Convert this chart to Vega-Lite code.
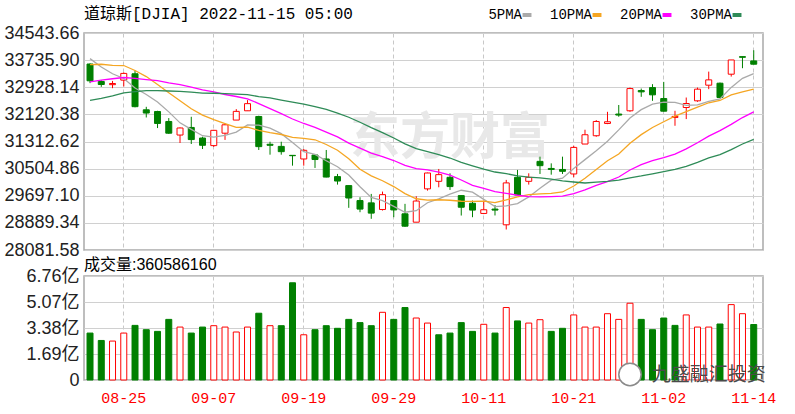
{
"$schema": "https://vega.github.io/schema/vega-lite/v6.json",
"background": "white",
"padding": {"left": 3, "top": 5, "right": 5, "bottom": 0},
"config": {
  "view": {"stroke": "#a9a9a9", "strokeWidth": 1.5},
  "axis": {"domain": false, "ticks": false, "title": null, "labelOverlap": false}
},
"data": {"values": [
{"d":"08-22","o":33620,"h":33640,"l":33050,"c":33120,"v":305000000,"vd":"d","5PMA":33780,"10PMA":33600,"20PMA":33085,"30PMA":32536},
{"d":"08-23","o":33100,"h":33140,"l":32940,"c":33010,"v":257000000,"vd":"d","5PMA":33532,"10PMA":33613,"20PMA":33142,"30PMA":32600},
{"d":"08-24","o":33005,"h":33117,"l":32900,"c":33040,"v":253000000,"vd":"u","5PMA":33330,"10PMA":33579,"20PMA":33181,"30PMA":32673},
{"d":"08-25","o":33140,"h":33370,"l":32950,"c":33340,"v":305000000,"vd":"u","5PMA":33188,"10PMA":33575,"20PMA":33219,"30PMA":32762},
{"d":"08-26","o":33330,"h":33420,"l":32330,"c":32350,"v":355000000,"vd":"d","5PMA":32904,"10PMA":33427,"20PMA":33191,"30PMA":32795},
{"d":"08-29","o":32257,"h":32346,"l":32028,"c":32160,"v":327000000,"vd":"d","5PMA":32711,"10PMA":33246,"20PMA":33156,"30PMA":32829},
{"d":"08-30","o":32206,"h":32227,"l":31713,"c":31850,"v":316000000,"vd":"d","5PMA":32487,"10PMA":33009,"20PMA":33126,"30PMA":32828},
{"d":"08-31","o":31909,"h":32010,"l":31540,"c":31560,"v":394000000,"vd":"d","5PMA":32195,"10PMA":32762,"20PMA":33061,"30PMA":32816},
{"d":"09-01","o":31505,"h":31730,"l":31268,"c":31715,"v":344000000,"vd":"u","5PMA":31868,"10PMA":32528,"20PMA":33007,"30PMA":32803},
{"d":"09-02","o":31731,"h":32049,"l":31238,"c":31370,"v":305000000,"vd":"d","5PMA":31675,"10PMA":32289,"20PMA":32933,"30PMA":32784},
{"d":"09-06","o":31416,"h":31455,"l":31089,"c":31200,"v":344000000,"vd":"d","5PMA":31484,"10PMA":32097,"20PMA":32848,"30PMA":32756},
{"d":"09-07","o":31190,"h":31660,"l":31150,"c":31645,"v":353000000,"vd":"u","5PMA":31442,"10PMA":31964,"20PMA":32789,"30PMA":32750},
{"d":"09-08","o":31560,"h":31850,"l":31360,"c":31810,"v":344000000,"vd":"u","5PMA":31495,"10PMA":31845,"20PMA":32712,"30PMA":32736},
{"d":"09-09","o":31951,"h":32277,"l":31951,"c":32210,"v":312000000,"vd":"u","5PMA":31594,"10PMA":31731,"20PMA":32653,"30PMA":32723},
{"d":"09-12","o":32227,"h":32545,"l":32227,"c":32440,"v":344000000,"vd":"u","5PMA":31807,"10PMA":31741,"20PMA":32584,"30PMA":32708},
{"d":"09-13","o":32058,"h":32080,"l":31060,"c":31160,"v":434000000,"vd":"d","5PMA":31799,"10PMA":31641,"20PMA":32443,"30PMA":32651},
{"d":"09-14","o":31230,"h":31306,"l":30920,"c":31200,"v":353000000,"vd":"u","5PMA":31710,"10PMA":31576,"20PMA":32293,"30PMA":32609},
{"d":"09-15","o":31167,"h":31306,"l":30920,"c":31010,"v":353000000,"vd":"d","5PMA":31547,"10PMA":31521,"20PMA":32142,"30PMA":32547},
{"d":"09-16","o":30900,"h":30905,"l":30593,"c":30890,"v":632000000,"vd":"d","5PMA":31281,"10PMA":31438,"20PMA":31983,"30PMA":32484},
{"d":"09-19","o":30792,"h":31089,"l":30593,"c":31050,"v":294000000,"vd":"u","5PMA":31009,"10PMA":31408,"20PMA":31849,"30PMA":32425},
{"d":"09-20","o":30911,"h":30911,"l":30525,"c":30776,"v":327000000,"vd":"d","5PMA":30929,"10PMA":31364,"20PMA":31731,"30PMA":32354},
{"d":"09-21","o":30792,"h":31060,"l":30246,"c":30254,"v":353000000,"vd":"d","5PMA":30739,"10PMA":31224,"20PMA":31594,"30PMA":32267},
{"d":"09-22","o":30267,"h":30347,"l":30029,"c":30135,"v":336000000,"vd":"d","5PMA":30562,"10PMA":31054,"20PMA":31450,"30PMA":32160},
{"d":"09-23","o":30000,"h":30000,"l":29337,"c":29630,"v":394000000,"vd":"d","5PMA":30315,"10PMA":30798,"20PMA":31265,"30PMA":32035},
{"d":"09-26","o":29554,"h":29653,"l":29207,"c":29300,"v":373000000,"vd":"d","5PMA":29964,"10PMA":30486,"20PMA":31114,"30PMA":31885},
{"d":"09-27","o":29485,"h":29752,"l":29010,"c":29180,"v":353000000,"vd":"d","5PMA":29649,"10PMA":30289,"20PMA":30965,"30PMA":31725},
{"d":"09-28","o":29287,"h":29821,"l":29257,"c":29730,"v":440000000,"vd":"u","5PMA":29549,"10PMA":30144,"20PMA":30860,"30PMA":31576},
{"d":"09-29","o":29554,"h":29554,"l":29058,"c":29275,"v":394000000,"vd":"d","5PMA":29379,"10PMA":29971,"20PMA":30746,"30PMA":31418},
{"d":"09-30","o":29159,"h":29456,"l":28770,"c":28791,"v":471000000,"vd":"d","5PMA":29206,"10PMA":29761,"20PMA":30599,"30PMA":31242},
{"d":"10-03","o":28910,"h":29682,"l":28910,"c":29540,"v":403000000,"vd":"u","5PMA":29252,"10PMA":29608,"20PMA":30508,"30PMA":31102},
{"d":"10-04","o":29902,"h":30386,"l":29850,"c":30375,"v":370000000,"vd":"u","5PMA":29489,"10PMA":29569,"20PMA":30466,"30PMA":31010},
{"d":"10-05","o":30127,"h":30495,"l":29949,"c":30326,"v":294000000,"vd":"d","5PMA":29607,"10PMA":29578,"20PMA":30401,"30PMA":30922},
{"d":"10-06","o":30246,"h":30365,"l":29871,"c":29970,"v":305000000,"vd":"d","5PMA":29747,"10PMA":29563,"20PMA":30309,"30PMA":30821},
{"d":"10-07","o":29702,"h":29702,"l":29108,"c":29355,"v":373000000,"vd":"d","5PMA":29861,"10PMA":29534,"20PMA":30166,"30PMA":30688},
{"d":"10-10","o":29474,"h":29554,"l":29058,"c":29270,"v":316000000,"vd":"d","5PMA":29803,"10PMA":29528,"20PMA":30007,"30PMA":30585},
{"d":"10-11","o":29170,"h":29554,"l":29150,"c":29280,"v":362000000,"vd":"u","5PMA":29588,"10PMA":29538,"20PMA":29914,"30PMA":30490},
{"d":"10-12","o":29300,"h":29420,"l":29110,"c":29270,"v":305000000,"vd":"d","5PMA":29375,"10PMA":29491,"20PMA":29818,"30PMA":30404},
{"d":"10-13","o":28832,"h":30169,"l":28692,"c":30080,"v":471000000,"vd":"u","5PMA":29398,"10PMA":29572,"20PMA":29771,"30PMA":30355},
{"d":"10-14","o":30246,"h":30466,"l":29705,"c":29720,"v":384000000,"vd":"d","5PMA":29465,"10PMA":29663,"20PMA":29712,"30PMA":30287},
{"d":"10-17","o":30127,"h":30365,"l":30029,"c":30246,"v":370000000,"vd":"u","5PMA":29662,"10PMA":29733,"20PMA":29670,"30PMA":30250},
{"d":"10-18","o":30721,"h":30861,"l":30346,"c":30593,"v":392000000,"vd":"u","5PMA":29919,"10PMA":29754,"20PMA":29661,"30PMA":30229},
{"d":"10-19","o":30510,"h":30662,"l":30325,"c":30480,"v":316000000,"vd":"d","5PMA":30162,"10PMA":29769,"20PMA":29673,"30PMA":30190},
{"d":"10-20","o":30480,"h":30861,"l":30346,"c":30425,"v":336000000,"vd":"d","5PMA":30221,"10PMA":29809,"20PMA":29686,"30PMA":30142},
{"d":"10-21","o":30346,"h":31187,"l":30246,"c":31137,"v":423000000,"vd":"u","5PMA":30510,"10PMA":29988,"20PMA":29761,"30PMA":30107},
{"d":"10-24","o":31237,"h":31663,"l":31237,"c":31514,"v":344000000,"vd":"u","5PMA":30773,"10PMA":30218,"20PMA":29873,"30PMA":30077},
{"d":"10-25","o":31484,"h":31950,"l":31454,"c":31909,"v":344000000,"vd":"u","5PMA":31036,"10PMA":30477,"20PMA":30008,"30PMA":30102},
{"d":"10-26","o":31850,"h":32197,"l":31830,"c":31900,"v":431000000,"vd":"u","5PMA":31319,"10PMA":30740,"20PMA":30116,"30PMA":30125},
{"d":"10-27","o":32130,"h":32400,"l":32050,"c":32100,"v":394000000,"vd":"u","5PMA":31658,"10PMA":30940,"20PMA":30256,"30PMA":30161},
{"d":"10-28","o":32227,"h":32919,"l":32197,"c":32889,"v":499000000,"vd":"u","5PMA":32014,"10PMA":31262,"20PMA":30463,"30PMA":30229},
{"d":"10-31","o":32830,"h":32889,"l":32643,"c":32790,"v":394000000,"vd":"d","5PMA":32261,"10PMA":31517,"20PMA":30625,"30PMA":30286},
{"d":"11-01","o":32919,"h":33020,"l":32524,"c":32702,"v":327000000,"vd":"d","5PMA":32424,"10PMA":31730,"20PMA":30742,"30PMA":30351},
{"d":"11-02","o":32592,"h":33088,"l":32207,"c":32215,"v":403000000,"vd":"d","5PMA":32486,"10PMA":31902,"20PMA":30835,"30PMA":30416},
{"d":"11-03","o":32030,"h":32227,"l":31781,"c":32060,"v":355000000,"vd":"d","5PMA":32479,"10PMA":32069,"20PMA":30939,"30PMA":30480},
{"d":"11-04","o":32325,"h":32622,"l":31980,"c":32444,"v":423000000,"vd":"u","5PMA":32388,"10PMA":32201,"20PMA":31094,"30PMA":30574},
{"d":"11-07","o":32524,"h":32919,"l":32494,"c":32871,"v":344000000,"vd":"u","5PMA":32406,"10PMA":32334,"20PMA":31276,"30PMA":30693},
{"d":"11-08","o":32990,"h":33394,"l":32871,"c":33148,"v":344000000,"vd":"u","5PMA":32508,"10PMA":32466,"20PMA":31472,"30PMA":30827},
{"d":"11-09","o":33049,"h":33068,"l":32603,"c":32622,"v":364000000,"vd":"d","5PMA":32581,"10PMA":32534,"20PMA":31637,"30PMA":30922},
{"d":"11-10","o":33317,"h":33741,"l":33246,"c":33741,"v":490000000,"vd":"u","5PMA":32924,"10PMA":32702,"20PMA":31821,"30PMA":31071},
{"d":"11-11","o":33840,"h":33845,"l":33495,"c":33820,"v":431000000,"vd":"u","5PMA":33193,"10PMA":32790,"20PMA":32026,"30PMA":31239},
{"d":"11-14","o":33712,"h":34030,"l":33614,"c":33614,"v":360586160,"vd":"d","5PMA":33335,"10PMA":32871,"20PMA":32194,"30PMA":31373}
]},
"spacing": -4,
"vconcat": [
{
  "width": 679, "height": 217,
  "title": {"text": "道琼斯[DJIA] 2022-11-15 05:00", "anchor": "start", "frame": "group", "font": "Liberation Mono, Noto Sans CJK SC", "fontSize": 16, "fontWeight": "normal", "color": "#000000", "offset": 2},
  "encoding": {
    "x": {"field": "d", "type": "ordinal", "scale": {"type": "band", "paddingInner": 0, "paddingOuter": 0.18, "align": 0.1},
          "axis": {"labels": false, "grid": true, "gridDash": [4, 3], "gridColor": "#c8c8c8", "bandPosition": 0.5,
                   "minExtent": 0, "maxExtent": 0, "labelPadding": 0, "tickSize": 0,
                   "values": ["08-25","09-07","09-19","09-29","10-11","10-21","11-02","11-14"]}}
  },
  "layer": [
    {"data": {"values": [{"t": "东方财富"}]},
     "mark": {"type": "text", "font": "Noto Sans CJK SC", "fontSize": 50, "fontWeight": "bold", "color": "#e8e8e8", "align": "center", "baseline": "middle"},
     "encoding": {"x": {"datum": "10-06", "type": "ordinal"}, "y": {"datum": 31395, "type": "quantitative"}, "text": {"field": "t"}}},
    {"mark": {"type": "rule", "strokeWidth": 1},
     "encoding": {
       "y": {"field": "l", "type": "quantitative",
             "scale": {"domain": [28081.58, 34543.66], "zero": false, "nice": false},
             "axis": {"values": [28081.58, 28889.34, 29697.10, 30504.86, 31312.62, 32120.38, 32928.14, 33735.90, 34543.66],
                      "tickCount": 9,
                      "format": ".2f", "labelFont": "Liberation Sans", "labelFontSize": 18, "labelColor": "#222222",
                      "labelOverlap": false, "labelFlush": false,
                      "labelPadding": 5, "grid": true, "gridColor": "#d0d0d0", "minExtent": 80, "maxExtent": 80}},
       "y2": {"field": "h"},
       "stroke": {"condition": {"test": "datum.c > datum.o", "value": "#ff0000"}, "value": "#008000"}}},
    {"mark": {"type": "bar", "width": 6, "strokeWidth": 1},
     "encoding": {
       "y": {"field": "o", "type": "quantitative"},
       "y2": {"field": "c"},
       "fill": {"condition": {"test": "datum.c > datum.o", "value": "#ffffff"}, "value": "#008000"},
       "stroke": {"condition": {"test": "datum.c > datum.o", "value": "#ff0000"}, "value": "#008000"}}},
    {"transform": [{"fold": ["5PMA", "10PMA", "20PMA", "30PMA"], "as": ["k", "val"]}],
     "mark": {"type": "line", "strokeWidth": 1.3},
     "encoding": {
       "y": {"field": "val", "type": "quantitative"},
       "color": {"field": "k", "type": "nominal",
                 "scale": {"domain": ["5PMA", "10PMA", "20PMA", "30PMA"], "range": ["#aaaaaa", "#f5a623", "#ff00ff", "#2e8b57"]},
                 "legend": {"orient": "none", "legendX": 436, "legendY": -25, "direction": "horizontal", "title": null,
                            "labelFont": "Liberation Mono", "labelFontSize": 14, "labelColor": "#000000",
                            "symbolType": "stroke", "symbolStrokeWidth": 4, "symbolSize": 80,
                            "labelAlign": "right", "labelOffset": -12, "columnPadding": 9, "padding": 0}}}}
  ]
},
{
  "width": 679, "height": 104,
  "title": {"text": "成交量:360586160", "anchor": "start", "frame": "group", "font": "Liberation Sans, Noto Sans CJK SC", "fontSize": 16, "fontWeight": "normal", "color": "#000000", "offset": -6},
  "layer": [
    {"mark": {"type": "bar", "width": 6, "strokeWidth": 1},
     "encoding": {
       "x": {"field": "d", "type": "ordinal", "scale": {"type": "band", "paddingInner": 0, "paddingOuter": 0.18, "align": 0.1},
             "axis": {"labelColor": "#ff0000", "labelFont": "Liberation Mono", "labelFontSize": 15, "labelAngle": 0, "labelPadding": 10,
                      "grid": true, "gridDash": [4, 3], "gridColor": "#c8c8c8", "bandPosition": 0.5,
                      "values": ["08-25","09-07","09-19","09-29","10-11","10-21","11-02","11-14"]}},
       "y": {"field": "v", "type": "quantitative",
             "scale": {"domain": [0, 676000000], "nice": false},
             "axis": {"values": [0, 169000000, 338000000, 507000000, 676000000],
                      "tickCount": 5,
                      "labelExpr": "datum.value == 0 ? '0' : format(datum.value / 100000000, '.2f') + '亿'",
                      "labelFont": "Liberation Sans, Noto Sans CJK SC", "labelFontSize": 18, "labelColor": "#222222",
                      "labelOverlap": false, "labelFlush": false,
                      "labelPadding": 5, "grid": true, "gridColor": "#d0d0d0", "minExtent": 80, "maxExtent": 80}},
       "fill": {"condition": {"test": "datum.vd == 'u'", "value": "#ffffff"}, "value": "#008000"},
       "stroke": {"condition": {"test": "datum.vd == 'u'", "value": "#ff0000"}, "value": "#008000"}}},
    {"data": {"values": [{"t": "icon"}]},
     "mark": {"type": "point", "shape": "circle", "size": 500, "filled": true, "fill": "#ffffff", "stroke": "#8a8a8a", "strokeWidth": 1.5, "opacity": 1},
     "encoding": {"x": {"datum": "10-28", "type": "ordinal"}, "y": {"datum": 36000000, "type": "quantitative"}}},
    {"data": {"values": [{"t": "九盛融汇投资"}]},
     "mark": {"type": "text", "font": "Noto Sans CJK SC", "fontSize": 19, "color": "#4a4a4a", "align": "center", "baseline": "middle"},
     "encoding": {"x": {"datum": "11-08", "type": "ordinal"}, "y": {"datum": 31000000, "type": "quantitative"}, "text": {"field": "t"}}}
  ]
}
]
}
